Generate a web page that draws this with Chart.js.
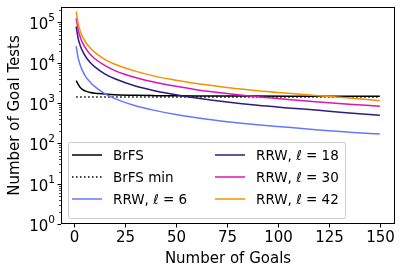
<!DOCTYPE html>
<html>
<head>
<meta charset="utf-8">
<script src="https://cdn.jsdelivr.net/npm/chart.js@4.4.1/dist/chart.umd.min.js"></script>
<style>
  html, body { margin: 0; padding: 0; background: #fff; }
</style>
</head>
<body>
<canvas id="chart" width="402" height="272"></canvas>
<script>
// Data
const goals = [1, 2, 3, 4, 6, 8, 10, 15, 20, 30, 40, 50, 60, 75, 90, 105, 120, 135, 150];
const brfs = [3600, 2900, 2450, 2200, 1950, 1830, 1760, 1680, 1620, 1560, 1530, 1510, 1500, 1495, 1490, 1485, 1480, 1475, 1470];
const brfsMinGoals = [1, 150];
const brfsMin = [1420, 1420];
const rrw6 = [26000, 13000, 8700, 6500, 4300, 3250, 2600, 1720, 1290, 860, 650, 520, 435, 345, 290, 250, 215, 190, 170];
const rrw18 = [79000, 39500, 26500, 20000, 13300, 10000, 8000, 5300, 4000, 2650, 2000, 1600, 1330, 1060, 880, 760, 660, 570, 500];
const rrw30 = [127000, 64000, 43000, 32000, 21500, 16000, 12800, 8600, 6400, 4300, 3250, 2600, 2150, 1720, 1430, 1230, 1070, 940, 830];
const rrw42 = [185000, 92000, 61000, 46000, 30500, 23000, 18300, 12200, 9200, 6200, 4600, 3700, 3050, 2450, 2030, 1750, 1520, 1330, 1150];

const xTicks = [0, 25, 50, 75, 100, 125, 150];
const yPowers = [0, 1, 2, 3, 4, 5];

const FONT = "'DejaVu Sans', sans-serif";

function toPoints(xs, ys) {
    return xs.map((x, i) => ({ x: x, y: ys[i] }));
}

const series = [
    { label: 'BrFS', xs: goals, ys: brfs, color: '#000000', dash: [] },
    { label: 'BrFS min', xs: brfsMinGoals, ys: brfsMin, color: '#000000', dash: [1.5, 2.5] },
    { label: 'RRW, ℓ = 6', xs: goals, ys: rrw6, color: '#6478ff', dash: [] },
    { label: 'RRW, ℓ = 18', xs: goals, ys: rrw18, color: '#2c1c80', dash: [] },
    { label: 'RRW, ℓ = 30', xs: goals, ys: rrw30, color: '#dc14b4', dash: [] },
    { label: 'RRW, ℓ = 42', xs: goals, ys: rrw42, color: '#f39200', dash: [] }
];

const datasets = series.map((s, i) => ({
    label: s.label,
    data: toPoints(s.xs, s.ys),
    borderColor: s.color,
    borderDash: s.dash,
    borderWidth: 1.5,
    pointRadius: 0,
    cubicInterpolationMode: 'monotone',
    fill: false,
    order: series.length - i
}));

// Draws the frame, ticks, tick labels, axis titles and the legend
const axisPlugin = {
    id: 'axisPlugin',
    afterDatasetsDraw(chart) {
        const ctx = chart.ctx;
        const area = chart.chartArea;
        const xs = chart.scales.x;
        const ys = chart.scales.y;
        ctx.save();

        // frame
        ctx.strokeStyle = '#000';
        ctx.lineWidth = 1;
        ctx.strokeRect(area.left + 0.5, area.top + 0.5, area.right - area.left - 1, area.bottom - area.top - 1);

        // x ticks
        ctx.fillStyle = '#000';
        ctx.font = '15px ' + FONT;
        ctx.textAlign = 'center';
        ctx.textBaseline = 'alphabetic';
        xTicks.forEach(v => {
            const px = Math.round(xs.getPixelForValue(v)) + 0.5;
            ctx.beginPath();
            ctx.moveTo(px, area.bottom);
            ctx.lineTo(px, area.bottom + 3.5);
            ctx.stroke();
            ctx.fillText(String(v), px, area.bottom + 18);
        });

        // y ticks, major and minor
        yPowers.forEach(p => {
            for (let m = 1; m <= 9; m++) {
                const v = m * Math.pow(10, p);
                if (v > ys.max) break;
                const py = Math.round(ys.getPixelForValue(v)) + 0.5;
                const len = m === 1 ? 3.5 : 2;
                ctx.lineWidth = m === 1 ? 1 : 0.7;
                ctx.beginPath();
                ctx.moveTo(area.left, py);
                ctx.lineTo(area.left - len, py);
                ctx.stroke();
            }
            const py = ys.getPixelForValue(Math.pow(10, p));
            ctx.font = '10.5px ' + FONT;
            ctx.textAlign = 'left';
            const supW = ctx.measureText(String(p)).width;
            const right = area.left - 6;
            ctx.fillText(String(p), right - supW, py - 1);
            ctx.font = '15px ' + FONT;
            ctx.textAlign = 'right';
            ctx.fillText('10', right - supW, py + 7);
        });

        // axis titles
        ctx.font = '15px ' + FONT;
        ctx.textAlign = 'center';
        ctx.fillText('Number of Goals', (area.left + area.right) / 2, 263);
        ctx.save();
        ctx.translate(19, (area.top + area.bottom) / 2);
        ctx.rotate(-Math.PI / 2);
        ctx.fillText('Number of Goal Tests', 0, 0);
        ctx.restore();

        // legend
        const box = { x: 68, y: 142, w: 277, h: 76 };
        ctx.fillStyle = 'rgba(255,255,255,0.8)';
        ctx.strokeStyle = '#cccccc';
        ctx.lineWidth = 1;
        ctx.beginPath();
        ctx.roundRect(box.x + 0.5, box.y + 0.5, box.w, box.h, 2);
        ctx.fill();
        ctx.stroke();
        const rows = [155, 177, 199];
        const cols = [{ hx: 72, tx: 113 }, { hx: 215, tx: 256 }];
        ctx.font = '13.5px ' + FONT;
        ctx.textAlign = 'left';
        ctx.textBaseline = 'middle';
        chart.data.datasets.forEach((ds, i) => {
            const col = cols[Math.floor(i / 3)];
            const y = rows[i % 3];
            ctx.strokeStyle = ds.borderColor;
            ctx.lineWidth = 1.5;
            ctx.setLineDash(ds.borderDash);
            ctx.beginPath();
            ctx.moveTo(col.hx, y);
            ctx.lineTo(col.hx + 30, y);
            ctx.stroke();
            ctx.setLineDash([]);
            ctx.fillStyle = '#000';
            ctx.fillText(ds.label, col.tx, y + 1);
        });

        ctx.restore();
    }
};

const ctx = document.getElementById('chart').getContext('2d');
new Chart(ctx, {
    type: 'line',
    data: { datasets: datasets },
    options: {
        responsive: false,
        animation: false,
        layout: { padding: { left: 0, right: 7, top: 7, bottom: 0 } },
        plugins: {
            legend: { display: false },
            tooltip: { enabled: false }
        },
        scales: {
            x: {
                type: 'linear',
                min: -6.45,
                max: 157.45,
                grid: { display: false },
                border: { display: false },
                ticks: { display: false },
                afterFit: s => { s.height = 48; }
            },
            y: {
                type: 'logarithmic',
                min: 1,
                max: 242000,
                grid: { display: false },
                border: { display: false },
                ticks: { display: false },
                afterFit: s => { s.width = 61; }
            }
        }
    },
    plugins: [axisPlugin]
});
</script>
</body>
</html>
